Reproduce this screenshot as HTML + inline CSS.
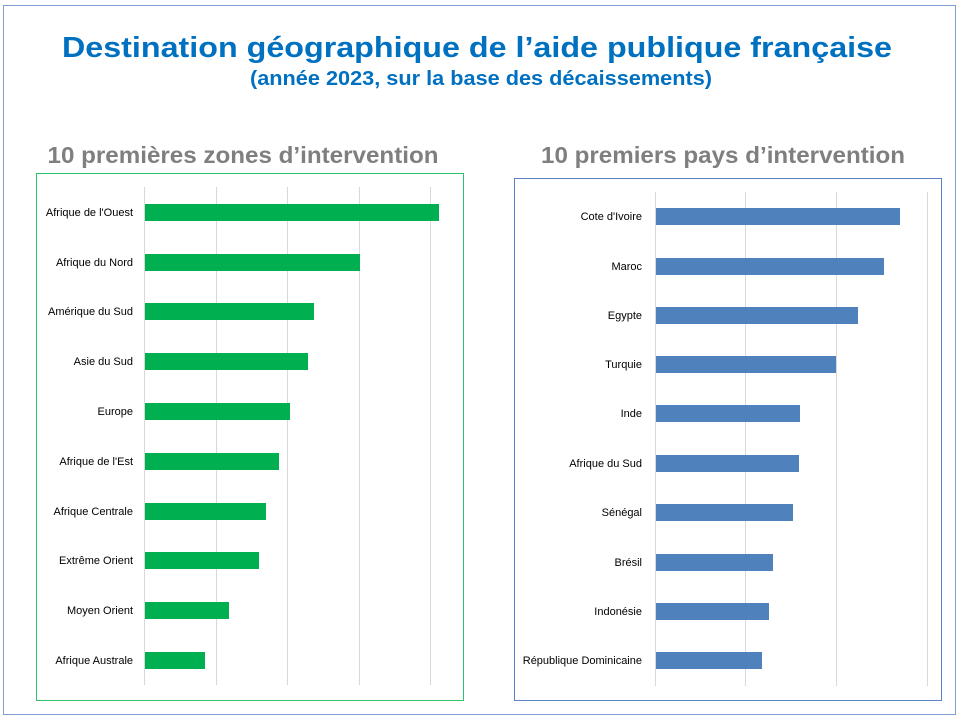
<!DOCTYPE html>
<html><head><meta charset="utf-8"><style>html,body{margin:0;padding:0;background:#fff}svg{display:block}</style></head><body>
<svg width="960" height="720" viewBox="0 0 960 720" xmlns="http://www.w3.org/2000/svg" font-family="Liberation Sans, sans-serif">
<rect x="3.5" y="5.5" width="952" height="709" fill="#fff" stroke="#7f9fd6" stroke-width="1"/>
<text x="477" y="57" text-anchor="middle" font-size="29" font-weight="bold" fill="#0070c0" textLength="830" lengthAdjust="spacingAndGlyphs">Destination géographique de l’aide publique française</text>
<text x="481" y="85" text-anchor="middle" font-size="20" font-weight="bold" fill="#0070c0" textLength="462" lengthAdjust="spacingAndGlyphs">(année 2023, sur la base des décaissements)</text>
<text x="243" y="163" text-anchor="middle" font-size="23" font-weight="bold" fill="#7f7f7f" textLength="391" lengthAdjust="spacingAndGlyphs">10 premières zones d’intervention</text>
<text x="723" y="163" text-anchor="middle" font-size="23" font-weight="bold" fill="#7f7f7f" textLength="364" lengthAdjust="spacingAndGlyphs">10 premiers pays d’intervention</text>
<rect x="36.5" y="173.5" width="427" height="527" fill="#fff" stroke="#2ec26a" stroke-width="1"/>
<rect x="514.5" y="178.5" width="427" height="522" fill="#fff" stroke="#5b82c4" stroke-width="1"/>
<g stroke="#d9d9d9" stroke-width="1">
<line x1="144.5" y1="187" x2="144.5" y2="685"/><line x1="216.5" y1="187" x2="216.5" y2="685"/><line x1="287.5" y1="187" x2="287.5" y2="685"/><line x1="359.5" y1="187" x2="359.5" y2="685"/><line x1="430.5" y1="187" x2="430.5" y2="685"/>
<line x1="655.5" y1="192" x2="655.5" y2="686"/><line x1="745.5" y1="192" x2="745.5" y2="686"/><line x1="836.5" y1="192" x2="836.5" y2="686"/><line x1="927.5" y1="192" x2="927.5" y2="686"/>
</g>
<g fill="#00b050">
<rect x="145" y="204" width="294" height="17"/><rect x="145" y="254" width="215" height="17"/><rect x="145" y="303" width="169" height="17"/><rect x="145" y="353" width="163" height="17"/><rect x="145" y="403" width="145" height="17"/><rect x="145" y="453" width="134" height="17"/><rect x="145" y="503" width="121" height="17"/><rect x="145" y="552" width="114" height="17"/><rect x="145" y="602" width="84" height="17"/><rect x="145" y="652" width="60" height="17"/>
</g>
<g fill="#4f81bd">
<rect x="656" y="208" width="244" height="17"/><rect x="656" y="258" width="228" height="17"/><rect x="656" y="307" width="202" height="17"/><rect x="656" y="356" width="180" height="17"/><rect x="656" y="405" width="144" height="17"/><rect x="656" y="455" width="143" height="17"/><rect x="656" y="504" width="137" height="17"/><rect x="656" y="554" width="117" height="17"/><rect x="656" y="603" width="113" height="17"/><rect x="656" y="652" width="106" height="17"/>
</g>
<g font-size="11" fill="#000" text-anchor="end">
<text x="133" y="216">Afrique de l'Ouest</text><text x="133" y="266">Afrique du Nord</text><text x="133" y="315">Amérique du Sud</text><text x="133" y="365">Asie du Sud</text><text x="133" y="415">Europe</text><text x="133" y="465">Afrique de l'Est</text><text x="133" y="515">Afrique Centrale</text><text x="133" y="564">Extrême Orient</text><text x="133" y="614">Moyen Orient</text><text x="133" y="664">Afrique Australe</text>
<text x="642" y="220">Cote  d'Ivoire</text><text x="642" y="270">Maroc</text><text x="642" y="319">Egypte</text><text x="642" y="368">Turquie</text><text x="642" y="417">Inde</text><text x="642" y="467">Afrique du Sud</text><text x="642" y="516">Sénégal</text><text x="642" y="566">Brésil</text><text x="642" y="615">Indonésie</text><text x="642" y="664">République Dominicaine</text>
</g>
</svg>
</body></html>
